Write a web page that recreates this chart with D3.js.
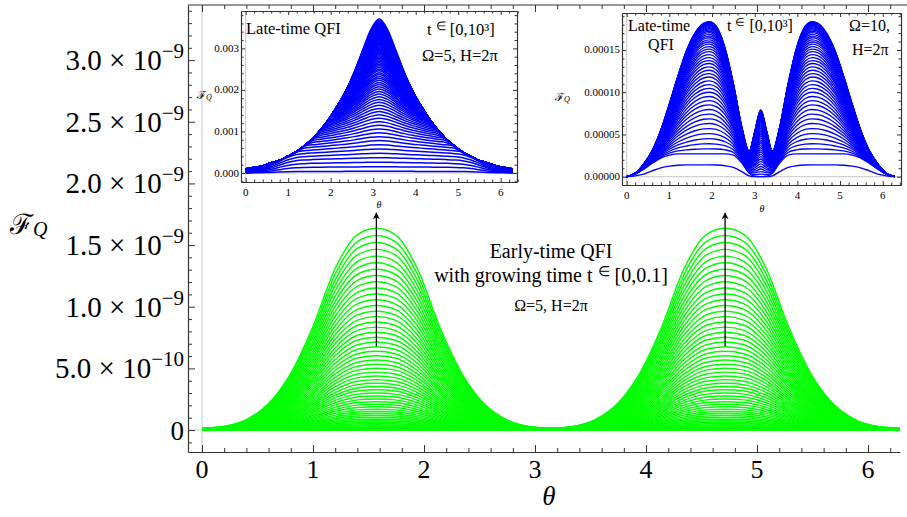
<!DOCTYPE html>
<html>
<head>
<meta charset="utf-8">
<script src="https://cdn.jsdelivr.net/npm/d3@7"></script>
<style>
  body { margin: 0; background: #fff; }
  text { font-family: "Liberation Serif", "Times New Roman", serif; fill: #000; }
</style>
</head>
<body>
<svg id="chart" width="907" height="517"></svg>
<script>
////////////////////////////////////////////////////////////////////////////////
// Data. Every profile is given on [0, pi]; the plots are
// symmetric about theta = pi, so the second half is the mirror image.

// Main panel: early-time QFI, Omega=5, H=2pi, t in [0,0.1]  (units of 1e-9)
var early_theta = [0, 0.2, 0.4, 0.6, 0.8, 1.0, 1.2, 1.4, Math.PI / 2, 1.74, 1.94, 2.14, 2.34, 2.54, 2.74, 2.94, Math.PI];
var early_top   = [0.015, 0.03, 0.085, 0.215, 0.46, 0.84, 1.31, 1.585, 1.636, 1.585, 1.31, 0.84, 0.46, 0.215, 0.085, 0.03, 0.015];
// height at theta = pi/2 of every curve of the family
var early_peaks = [0.0005, 0.0021, 0.0047, 0.0083, 0.013, 0.0188, 0.0256, 0.0334, 0.0423, 0.0522,
  0.0631, 0.0751, 0.0882, 0.1023, 0.1174, 0.1336, 0.1508, 0.169, 0.1883, 0.2087,
  0.2301, 0.2525, 0.276, 0.3005, 0.3261, 0.3527, 0.3803, 0.409, 0.4388, 0.4696,
  0.5014, 0.5342, 0.5682, 0.6031, 0.6391, 0.6761, 0.7142, 0.7533, 0.7935, 0.8347,
  0.877, 0.9203, 0.9646, 1.01, 1.0564, 1.1039, 1.1524, 1.202, 1.2526, 1.3042,
  1.3569, 1.4106, 1.4654, 1.5212, 1.578, 1.636];
var early_arrow_theta = [Math.PI / 2, 3 * Math.PI / 2];
var early_arrow_span  = [0.68, 1.76];

var main_x_ticks  = [0, 1, 2, 3, 4, 5, 6];
var main_y_ticks  = [0, 0.5, 1.0, 1.5, 2.0, 2.5, 3.0];
var main_y_mant   = ["0", "5.0", "1.0", "1.5", "2.0", "2.5", "3.0"];
var main_y_exp    = ["", "\u221210", "\u22129", "\u22129", "\u22129", "\u22129", "\u22129"];

// Left inset: late-time QFI, Omega=5, t in [0,1e3]  (units of 1e-3)
var late5_theta = [0, 0.196, 0.393, 0.589, 0.785, 0.982, 1.178, 1.374, 1.571, 1.767, 1.963, 2.160, 2.356, 2.553, 2.749, 2.945, Math.PI];
var late5_top   = [0.10, 0.13, 0.17, 0.24, 0.30, 0.40, 0.50, 0.65, 0.82, 1.04, 1.30, 1.62, 1.98, 2.43, 2.95, 3.45, 3.71];
// relative shape of the lowest (flat) lines
var late5_low   = [0.05, 0.1, 0.2, 0.35, 0.55, 0.74, 0.87, 0.92, 0.945, 0.96, 0.97, 0.98, 0.985, 0.99, 0.995, 1.0, 1.0];
// height at theta = pi of every curve
var late5_peaks = [0.04, 0.15, 0.26, 0.37, 0.475, 0.58, 0.68, 0.78, 0.875, 0.97, 1.06, 1.15, 1.235, 1.32,
  1.40, 1.48, 1.555, 1.63, 1.70, 1.77, 1.835, 1.90, 1.96, 2.02, 2.075, 2.13, 2.18, 2.23, 2.28, 2.325,
  2.37, 2.415, 2.46, 2.50, 2.54, 2.58, 2.62, 2.655, 2.69, 2.725, 2.76, 2.79, 2.82, 2.85, 2.88, 2.91,
  2.935, 2.96, 2.985, 3.01, 3.035, 3.06, 3.08, 3.10, 3.12, 3.14, 3.16, 3.18, 3.20, 3.22, 3.24, 3.26,
  3.28, 3.30, 3.32, 3.34, 3.36, 3.38, 3.40, 3.42, 3.44, 3.46, 3.48, 3.50, 3.52, 3.54, 3.56, 3.58,
  3.60, 3.62, 3.64, 3.66, 3.68, 3.71];
var late5_y_ticks  = [0, 1, 2, 3];
var late5_y_labels = ["0.000", "0.001", "0.002", "0.003"];

// Right inset: late-time QFI, Omega=10, t in [0,1e3]  (units of 1e-5)
var late10_theta  = [0, 0.2, 0.4, 0.6, 0.8, 1.0, 1.2, 1.4, 1.6, 1.8, 1.94, 2.1, 2.3, 2.5, 2.7, 2.87, 3.0, Math.PI];
var late10_top    = [0, 0.4, 1.5, 3.1, 5.5, 8.6, 11.9, 14.9, 17.0, 18.15, 18.35, 17.8, 15.3, 11.0, 5.8, 3.0, 5.3, 7.9];
var late10_floor  = [0, 0.3, 0.9, 1.6, 2.2, 2.55, 2.7, 2.7, 2.7, 2.7, 2.7, 2.7, 2.7, 2.55, 1.6, 0.4, 0.05, 0];
var late10_lowest = [0, 0.1, 0.3, 0.7, 1.05, 1.25, 1.35, 1.4, 1.4, 1.4, 1.4, 1.38, 1.3, 1.1, 0.6, 0.1, 0, 0];
// height at the hump top of every curve
var late10_peaks = [2.7, 3.3, 3.9, 4.5, 5.1, 5.7, 6.3, 6.85, 7.4, 7.95, 8.5, 9.0, 9.5, 10.0, 10.45,
  10.9, 11.35, 11.8, 12.2, 12.6, 13.0, 13.4, 13.75, 14.1, 14.45, 14.8, 15.1, 15.4, 15.7, 15.95,
  16.2, 16.45, 16.65, 16.85, 17.05, 17.22, 17.38, 17.52, 17.65, 17.77, 17.88, 17.98, 18.07,
  18.15, 18.22, 18.28, 18.33, 18.35];
var late10_y_ticks  = [0, 5, 10, 15];
var late10_y_labels = ["0.00000", "0.00005", "0.00010", "0.00015"];

var inset_x_ticks = [0, 1, 2, 3, 4, 5, 6];

////////////////////////////////////////////////////////////////////////////////
// Helpers

var svg = d3.select("#chart");
var TWO_PI = 2 * Math.PI;
var FRAME = "#333";

function full_theta(half) {            // [0,pi] grid -> [0,2pi] grid
  var out = half.slice();
  for (var i = half.length - 2; i >= 0; i--) out.push(TWO_PI - half[i]);
  return out;
}
function full_vals(half) {
  var out = half.slice();
  for (var i = half.length - 2; i >= 0; i--) out.push(half[i]);
  return out;
}
function minor_range(lo, hi, step) {
  var out = [];
  for (var i = Math.ceil(lo / step - 1e-9); i * step <= hi + 1e-9; i++) out.push(+(i * step).toFixed(6));
  return out;
}

var clip_count = 0;
function make_panel(o) {
  var x = d3.scaleLinear().domain(o.xdom).range([o.left, o.right]);
  var y = d3.scaleLinear().domain(o.ydom).range([o.bottom, o.top]);
  var g = svg.append("g");
  if (o.bg) g.append("rect").attr("x", o.left).attr("y", o.top)
    .attr("width", o.right - o.left).attr("height", o.bottom - o.top).attr("fill", "#fff");
  // light grey axes through the origin
  g.append("line").attr("x1", x(0)).attr("x2", x(0)).attr("y1", o.top).attr("y2", o.bottom)
    .attr("stroke", "#c8c8c8").attr("stroke-width", 1);
  g.append("line").attr("x1", o.left).attr("x2", o.right).attr("y1", y(0)).attr("y2", y(0))
    .attr("stroke", "#c8c8c8").attr("stroke-width", 1);
  var id = "clip" + (clip_count++);
  svg.append("clipPath").attr("id", id).append("rect")
    .attr("x", o.left).attr("y", o.top).attr("width", o.right - o.left).attr("height", o.bottom - o.top);
  var plot = g.append("g").attr("clip-path", "url(#" + id + ")");
  return { g: g, x: x, y: y, plot: plot, o: o };
}

function draw_curves(P, theta, curves, color, width) {
  var line = d3.line().x(function(d) { return P.x(d[0]); }).y(function(d) { return P.y(d[1]); })
    .curve(d3.curveMonotoneX);
  P.plot.selectAll(null).data(curves).enter().append("path")
    .attr("d", function(c) { return line(theta.map(function(t, i) { return [t, c[i]]; })); })
    .attr("fill", "none").attr("stroke", color).attr("stroke-width", width);
}

function add_ticks(P, make_axis, transform, major, minor, big, small, domain) {
  [[major, big], [minor, small]].forEach(function(set, k) {
    var scale = (make_axis === d3.axisBottom || make_axis === d3.axisTop) ? P.x : P.y;
    var a = P.g.append("g").attr("transform", transform)
      .call(make_axis(scale).tickValues(set[0]).tickSizeInner(-set[1]).tickSizeOuter(0).tickFormat(""));
    a.selectAll(".tick line").attr("stroke", FRAME).attr("stroke-width", 1);
    a.select(".domain").attr("stroke", k == 0 && domain ? FRAME : "none").attr("stroke-width", 1.2);
  });
}

////////////////////////////////////////////////////////////////////////////////
// Main panel

var M = make_panel({ left: 188, right: 900, top: 5, bottom: 452,
                     xdom: [-0.1261, 6.288], ydom: [-0.178, 3.447], bg: false });

var early_th = full_theta(early_theta);
var early_env = full_vals(early_top);
var early_max = d3.max(early_top);
var early_curves = early_peaks.map(function(p) {
  return early_env.map(function(v) { return v * p / early_max; });
});
draw_curves(M, early_th, early_curves, "#00ff00", 1.45);

// arrows showing growing time
var defs = svg.append("defs");
defs.append("marker").attr("id", "head").attr("viewBox", "0 0 10 10")
  .attr("refX", 9).attr("refY", 5).attr("markerWidth", 7).attr("markerHeight", 9)
  .attr("markerUnits", "userSpaceOnUse").attr("orient", "auto")
  .append("path").attr("d", "M0,0 L10,5 L0,10 L3,5 Z").attr("fill", "#000");
M.g.selectAll(null).data(early_arrow_theta).enter().append("line")
  .attr("x1", function(d) { return M.x(d); }).attr("x2", function(d) { return M.x(d); })
  .attr("y1", M.y(early_arrow_span[0])).attr("y2", M.y(early_arrow_span[1]))
  .attr("stroke", "#000").attr("stroke-width", 1.3).attr("marker-end", "url(#head)");

var main_x_minor = minor_range(0, 6.28, 0.2).filter(function(v) { return Math.abs(v - Math.round(v)) > 1e-6; });
var main_y_minor = minor_range(-0.17, 3.44, 0.1).filter(function(v) { return Math.abs(v * 2 - Math.round(v * 2)) > 1e-6; });
add_ticks(M, d3.axisBottom, "translate(0,452)", main_x_ticks, main_x_minor, 7, 4, true);
add_ticks(M, d3.axisTop, "translate(0,5)", main_x_ticks, main_x_minor, 7, 4, false);
add_ticks(M, d3.axisLeft, "translate(188,0)", main_y_ticks, main_y_minor, 7, 4, true);
M.g.append("line").attr("x1", 188).attr("x2", 907).attr("y1", 5).attr("y2", 5)
  .attr("stroke", FRAME).attr("stroke-width", 1.2);

// tick labels
M.g.selectAll(null).data(main_x_ticks).enter().append("text")
  .attr("x", function(d) { return M.x(d); }).attr("y", 478)
  .attr("text-anchor", "middle").attr("font-size", 26).text(function(d) { return d; });
M.g.selectAll(null).data(main_y_ticks).enter().append("text")
  .attr("x", 184).attr("y", function(d) { return M.y(d) + 10; })
  .attr("text-anchor", "end").attr("font-size", 29)
  .each(function(d, i) {
    var t = d3.select(this);
    if (main_y_exp[i] == "") { t.attr("font-size", 27).text(main_y_mant[i]); return; }
    t.append("tspan").text(main_y_mant[i] + " \u00d7 10");
    t.append("tspan").attr("font-size", 21).attr("dy", -12).text(main_y_exp[i]);
  });

// axis titles
var ylab = M.g.append("text").attr("x", 10).attr("y", 234);
ylab.append("tspan").attr("font-family", "DejaVu Serif").attr("font-size", 28).text("\u2131");
ylab.append("tspan").attr("font-style", "italic").attr("font-size", 20).attr("dy", 2).text("Q");
M.g.append("text").attr("x", 549).attr("y", 505).attr("text-anchor", "middle")
  .attr("font-style", "italic").attr("font-size", 27).text("\u03b8");

// annotation
var ann = M.g.append("g").attr("text-anchor", "middle");
ann.append("text").attr("x", 551).attr("y", 258).attr("font-size", 20).text("Early-time QFI");
var ann2 = ann.append("text").attr("x", 551).attr("y", 282).attr("font-size", 20);
ann2.append("tspan").text("with growing time t ");
ann2.append("tspan").attr("font-size", 14).attr("dy", -6).text("\u2208");
ann2.append("tspan").attr("dy", 6).text(" [0,0.1]");
ann.append("text").attr("x", 551).attr("y", 311).attr("font-size", 16).text("\u03a9=5, H=2\u03c0");

////////////////////////////////////////////////////////////////////////////////
// Insets

function inset_frame(P, y_ticks, y_minor, y_labels) {
  var o = P.o;
  var xminor = minor_range(0, 6.4, 0.2).filter(function(v) { return Math.abs(v - Math.round(v)) > 1e-6; });
  add_ticks(P, d3.axisBottom, "translate(0," + o.bottom + ")", inset_x_ticks, xminor, 4, 2.5, true);
  add_ticks(P, d3.axisTop, "translate(0," + o.top + ")", inset_x_ticks, xminor, 4, 2.5, true);
  add_ticks(P, d3.axisLeft, "translate(" + o.left + ",0)", y_ticks, y_minor, 4, 2.5, true);
  add_ticks(P, d3.axisRight, "translate(" + o.right + ",0)", y_ticks, y_minor, 4, 2.5, true);
  P.g.selectAll(null).data(inset_x_ticks).enter().append("text")
    .attr("x", function(d) { return P.x(d); }).attr("y", o.bottom + 13.5)
    .attr("text-anchor", "middle").attr("font-size", 11).text(function(d) { return d; });
  P.g.selectAll(null).data(y_ticks).enter().append("text")
    .attr("x", o.left - 2).attr("y", function(d) { return P.y(d) + 3.5; })
    .attr("text-anchor", "end").attr("font-size", 11).text(function(d, i) { return y_labels[i]; });
  P.g.append("text").attr("x", o.xlab[0]).attr("y", o.xlab[1]).attr("text-anchor", "middle")
    .attr("font-style", "italic").attr("font-size", 10).text("\u03b8");
  var yl = P.g.append("text").attr("x", o.ylab[0]).attr("y", o.ylab[1]);
  yl.append("tspan").attr("font-family", "DejaVu Serif").attr("font-size", 11).text("\u2131");
  yl.append("tspan").attr("font-style", "italic").attr("font-size", 8).attr("dy", 1).text("Q");
}

function t_range_label(g, x, y, size) {
  var t = g.append("text").attr("x", x).attr("y", y).attr("font-size", size);
  t.append("tspan").text("t ");
  t.append("tspan").attr("font-size", size * 0.7).attr("dy", -size * 0.3).text("\u2208");
  t.append("tspan").attr("dy", size * 0.3).text(" [0,10\u00b3]");
}

// left inset, Omega = 5
var L = make_panel({ left: 241, right: 517, top: 11, bottom: 182,
                     xdom: [-0.1106, 6.384], ydom: [-0.2166, 3.899], bg: true,
                     xlab: [379, 208], ylab: [197, 99] });
var l_th = full_theta(late5_theta);
var l_top = full_vals(late5_top);
var l_low = full_vals(late5_low);
var l_max = d3.max(late5_top);
var l_curves = late5_peaks.map(function(p) {
  var w = p / l_max;
  return l_top.map(function(v, i) {
    return Math.min(v, p * (w * v / l_max + (1 - w) * l_low[i]));
  });
});
draw_curves(L, l_th, l_curves, "#0000ff", 1.5);
inset_frame(L, late5_y_ticks, minor_range(-0.2, 3.8, 0.2).filter(function(v) {
  return Math.abs(v - Math.round(v)) > 1e-6; }), late5_y_labels);
L.g.append("text").attr("x", 246).attr("y", 34).attr("font-size", 16.5).text("Late-time QFI");
t_range_label(L.g, 427, 35, 16.5);
L.g.append("text").attr("x", 422).attr("y", 61).attr("font-size", 16.5).text("\u03a9=5, H=2\u03c0");

// right inset, Omega = 10
var R = make_panel({ left: 622, right: 901, top: 13, bottom: 185,
                     xdom: [-0.1098, 6.428], ydom: [-0.983, 19.38], bg: true,
                     xlab: [762, 212], ylab: [555, 101] });
var r_th = full_theta(late10_theta);
var r_top = full_vals(late10_top);
var r_floor = full_vals(late10_floor);
var r_max = d3.max(late10_top), r_base = d3.max(late10_floor);
var r_curves = late10_peaks.map(function(p) {
  var f = (p - r_base) / (r_max - r_base);
  return r_top.map(function(v, i) { return r_floor[i] + f * (v - r_floor[i]); });
});
r_curves.unshift(full_vals(late10_lowest));
draw_curves(R, r_th, r_curves, "#0000ff", 1.35);
inset_frame(R, late10_y_ticks, minor_range(0, 19, 1).filter(function(v) { return v % 5 != 0; }), late10_y_labels);
R.g.append("text").attr("x", 628).attr("y", 31).attr("font-size", 16).text("Late-time");
R.g.append("text").attr("x", 661).attr("y", 50).attr("text-anchor", "middle").attr("font-size", 16).text("QFI");
t_range_label(R.g, 727, 31, 16);
R.g.append("text").attr("x", 849).attr("y", 31).attr("font-size", 16).text("\u03a9=10,");
R.g.append("text").attr("x", 852).attr("y", 55).attr("font-size", 16).text("H=2\u03c0");
</script>
</body>
</html>
